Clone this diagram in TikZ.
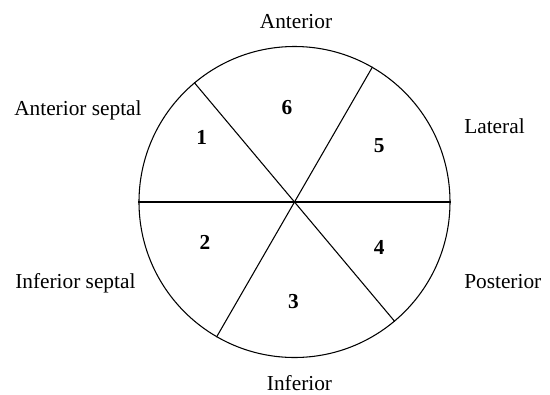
\documentclass[tikz,border=0pt]{standalone}
\usepackage{fontspec}
\setmainfont{Liberation Serif}
\usepackage{tikz}
\usetikzlibrary{positioning}
\tikzstyle{heart}=[circle,draw=black,line width=0.8pt,minimum size=233.25pt,inner sep=0pt]
\tikzstyle{seg}=[draw=black,line width=0.8pt]
\tikzstyle{num}=[inner sep=0pt,font=\fontsize{16}{19}\selectfont\bfseries]
\tikzstyle{wall}=[inner sep=0pt,font=\fontsize{16}{19}\selectfont]

\begin{document}
\begin{tikzpicture}[x=0.75pt,y=0.75pt]
  \useasboundingbox (-294.5,-192) rectangle (255.5,202);
  % the short axis slice
  \node[heart] (LV) at (0,0) {};
  \draw[seg] (LV.180) -- (LV.0);
  \draw[seg] (LV.130) -- (LV.-50);
  \draw[seg] (LV.60) -- (LV.240);
  % segment numbers
  \node[num] (S1) at (-92.8,64.7) {1};
  \node[num] (S2) at (-89.5,-40.5) {2};
  \node[num] (S3) at (-1,-100) {3};
  \node[num] (S4) at (84.8,-45) {4};
  \node[num] (S5) at (84.8,56) {5};
  \node[num] (S6) at (-7.5,94.5) {6};
  % wall names
  \node[wall,anchor=base] (ant) at (1.5,174) {Anterior};
  \node[wall,anchor=base west] (antsep) at (-280.5,87) {Anterior septal};
  \node[wall,anchor=base west] (lat) at (169.5,69) {Lateral};
  \node[wall,anchor=base west] (post) at (169.5,-86) {Posterior};
  \node[wall,anchor=base west] (infsep) at (-279.5,-86) {Inferior septal};
  \node[wall,anchor=base] (inf) at (5,-188) {Inferior};
\end{tikzpicture}
\end{document}
